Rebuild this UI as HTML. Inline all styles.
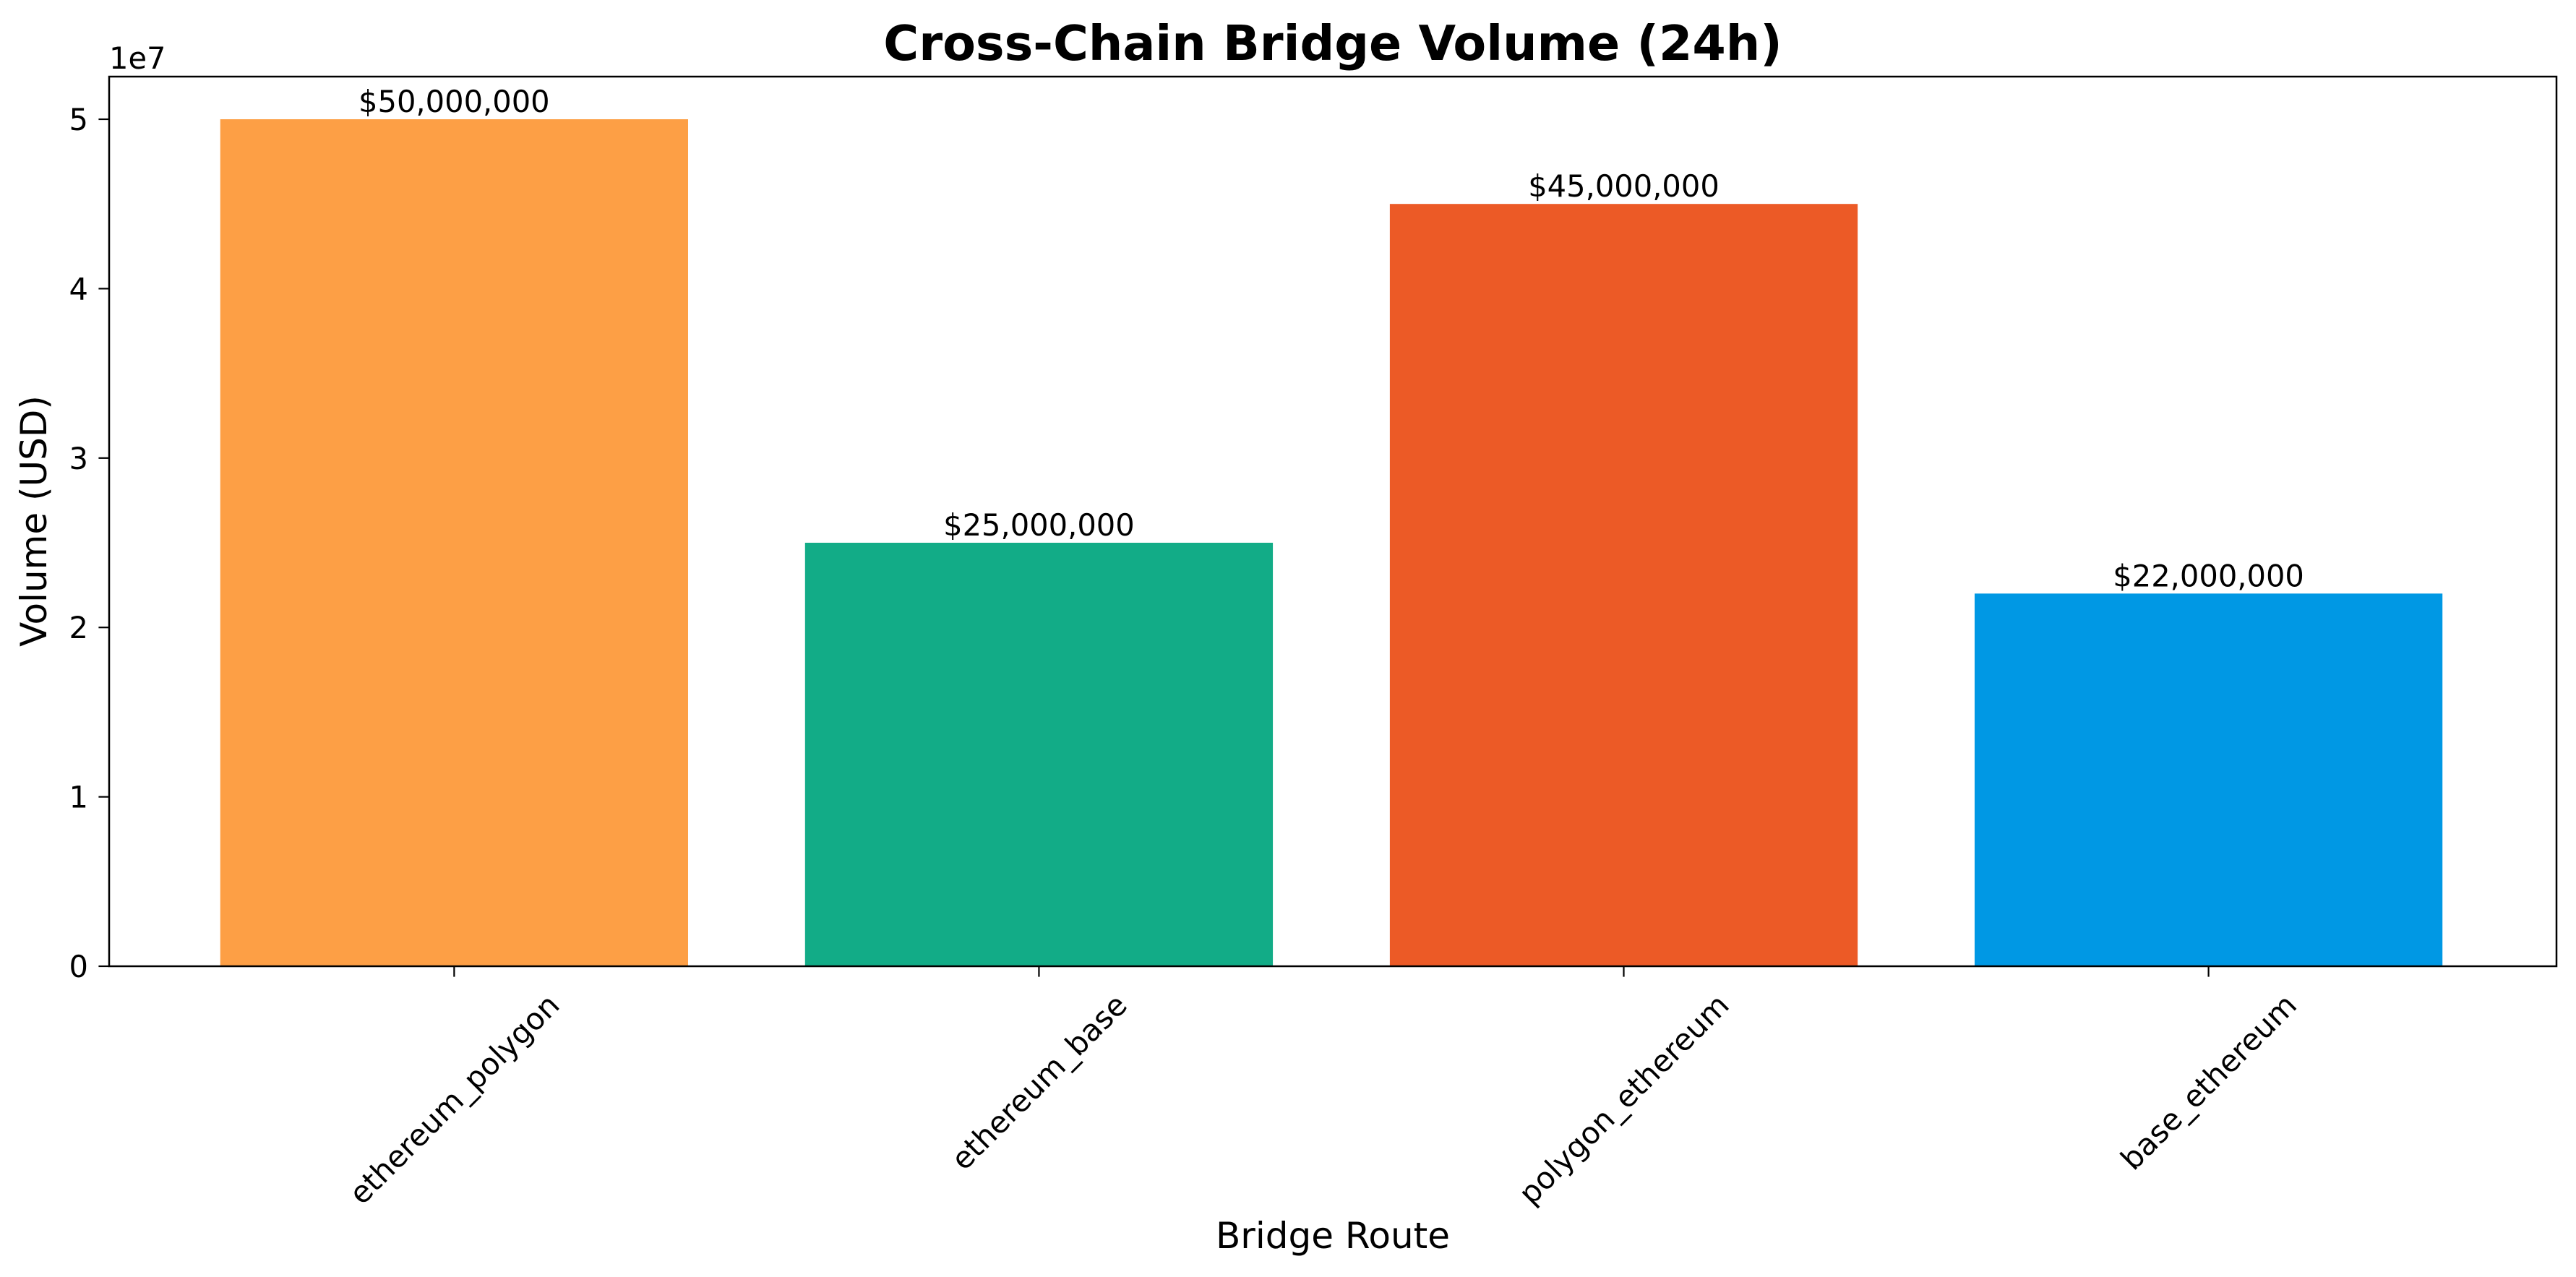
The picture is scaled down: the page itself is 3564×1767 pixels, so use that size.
<!DOCTYPE html>
<html><head><meta charset="utf-8">
<style>
html,body{margin:0;padding:0;background:#fff;}
svg{display:block;font-family:"DejaVu Sans","Liberation Sans",sans-serif;}
</style></head>
<body>
<svg id="chart" width="3564" height="1767" viewBox="0 0 3564 1767" xmlns="http://www.w3.org/2000/svg">
<rect x="0" y="0" width="3564" height="1767" fill="#fff"/>
<text x="1844" y="83" font-size="66.7" font-weight="bold" text-anchor="middle">Cross-Chain Bridge Volume (24h)</text>
<text x="0" y="0" font-size="50" text-anchor="middle" transform="translate(64,721) rotate(-90)">Volume (USD)</text>
<text x="1844" y="1727" font-size="50" text-anchor="middle">Bridge Route</text>
<text x="151" y="95" font-size="41.6">1e7</text>
<g id="bars"></g>
<g id="yticks"></g>
<g id="xticks"></g>
<rect x="151" y="106" width="3386" height="1231" fill="none" stroke="#000" stroke-width="2.5"/>
</svg>
<script>
const categories = ["ethereum_polygon","ethereum_base","polygon_ethereum","base_ethereum"];
const volumes = [50000000, 25000000, 45000000, 22000000];
const valueLabels = ["$50,000,000","$25,000,000","$45,000,000","$22,000,000"];
const barColors = ["#fd9f45","#12ac87","#ec5a26","#0098e4"];
const yTicks = [0,1,2,3,4,5];
const yTickLabels = ["0","1","2","3","4","5"];

const NS = "http://www.w3.org/2000/svg";
const L = 151, R = 3537, T = 106, B = 1337;
const yScale = v => B - (v / 5e7) * (B - 165);
const step = (R - L) / (categories.length - 1 + 0.59 + 0.595);
const xScale = i => L + 0.59 * step + i * step;
const barW = 0.8 * step;
function mk(tag, attrs, parent){const e=document.createElementNS(NS,tag);for(const k in attrs)e.setAttribute(k,attrs[k]);parent.appendChild(e);return e;}
const bars = document.getElementById('bars');
const yt = document.getElementById('yticks');
const xt = document.getElementById('xticks');
volumes.forEach((v,i)=>{
  const cx = xScale(i), top = yScale(v);
  const r = mk('rect',{x:cx-barW/2,y:top,width:barW,height:B-top,fill:barColors[i]},bars);
  
  
  const t = mk('text',{x:cx,y:top-10,'font-size':41.6,'text-anchor':'middle'},bars);
  t.textContent = valueLabels[i];
  
  
  const tk = mk('line',{x1:cx,x2:cx,y1:B,y2:B+14.6,stroke:'#000','stroke-width':2.2},xt);
  
  
  const lb = mk('text',{x:0,y:0,'font-size':41.6,'text-anchor':'middle','dominant-baseline':'central'},xt);
  lb.textContent = categories[i];
  
  
  const len = lb.getComputedTextLength();
  const h = (len + 41.6*1.164) * 0.7071;
  const cy = 1366 + h/2;
  lb.setAttribute('transform','translate('+cx+','+cy+') rotate(-45)');
});
yTicks.forEach((v,i)=>{
  const y = yScale(v*1e7);
  const tk = mk('line',{x1:L-14.6,x2:L,y1:y,y2:y,stroke:'#000','stroke-width':2.2},yt);
  
  
  const t = mk('text',{x:L-29,y:y+15,'font-size':41.6,'text-anchor':'end'},yt);
  t.textContent = yTickLabels[i];
  
  
});
</script>
</body></html>
